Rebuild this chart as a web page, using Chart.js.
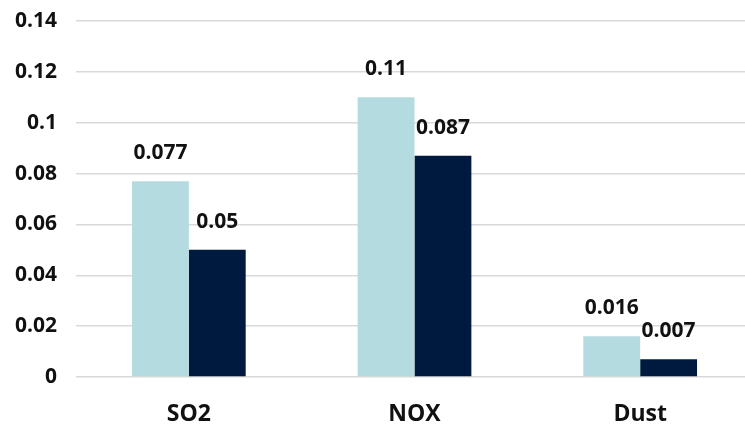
<!DOCTYPE html>
<html>
<head>
<meta charset="utf-8">
<script src="https://cdn.jsdelivr.net/npm/chart.js@4/dist/chart.umd.min.js"></script>
<style>
  html, body { margin: 0; padding: 0; background: #fff; overflow: hidden; }
  #wrap { width: 745px; height: 429px; overflow: hidden; }
</style>
</head>
<body>
<div id="wrap"><canvas id="barChart" width="760" height="429"></canvas></div>
<script>
var categories = ['SO2', 'NOX', 'Dust'];
var seriesA = [0.077, 0.11, 0.016];
var seriesB = [0.05, 0.087, 0.007];
var yTicks = [0, 0.02, 0.04, 0.06, 0.08, 0.1, 0.12, 0.14];

var FONT = "'Open Sans'";

// values written above each bar
var valueLabels = {
	id: 'valueLabels',
	afterDatasetsDraw: function(chart) {
		var ctx = chart.ctx;
		ctx.save();
		ctx.font = 'bold 21px ' + FONT;
		ctx.fillStyle = '#111';
		ctx.textAlign = 'center';
		ctx.textBaseline = 'middle';
		chart.data.datasets.forEach(function(ds, i) {
			chart.getDatasetMeta(i).data.forEach(function(bar, j) {
				ctx.fillText(String(ds.data[j]), bar.x, bar.y - 28);
			});
		});
		ctx.restore();
	}
};

var barChartCanvas = document.getElementById('barChart').getContext('2d');
var barChart = new Chart(barChartCanvas, {
	type: 'bar',
	data: {
		labels: categories,
		datasets: [
			{ data: seriesA, backgroundColor: '#b4dce0', categoryPercentage: 0.504, barPercentage: 1 },
			{ data: seriesB, backgroundColor: '#001a3f', categoryPercentage: 0.504, barPercentage: 1 }
		]
	},
	options: {
		responsive: false,
		animation: false,
		layout: { padding: { top: 21, right: 7, left: 0, bottom: 0 } },
		plugins: { legend: { display: false }, tooltip: { enabled: false } },
		scales: {
			x: {
				grid: { display: false },
				border: { display: false },
				ticks: { color: '#111', font: { family: FONT, size: 23, weight: 'bold' }, padding: 16 },
				afterFit: function(scale) { scale.height = 52; }
			},
			y: {
				min: 0,
				max: 0.14,
				afterBuildTicks: function(scale) {
					scale.ticks = yTicks.map(function(v) { return { value: v }; });
				},
				grid: { color: '#d9d9d9', lineWidth: 1.5, drawTicks: false },
				border: { display: false },
				ticks: {
					color: '#111',
					padding: 19,
					font: { family: FONT, size: 21, weight: 'bold' },
					callback: function(v) { return String(Math.round(v * 100) / 100); }
				},
				afterFit: function(scale) {
					scale.width = 76;
					scale.paddingTop = 0;
					scale.paddingBottom = 0;
				}
			}
		}
	},
	plugins: [valueLabels]
});
</script>
</body>
</html>
